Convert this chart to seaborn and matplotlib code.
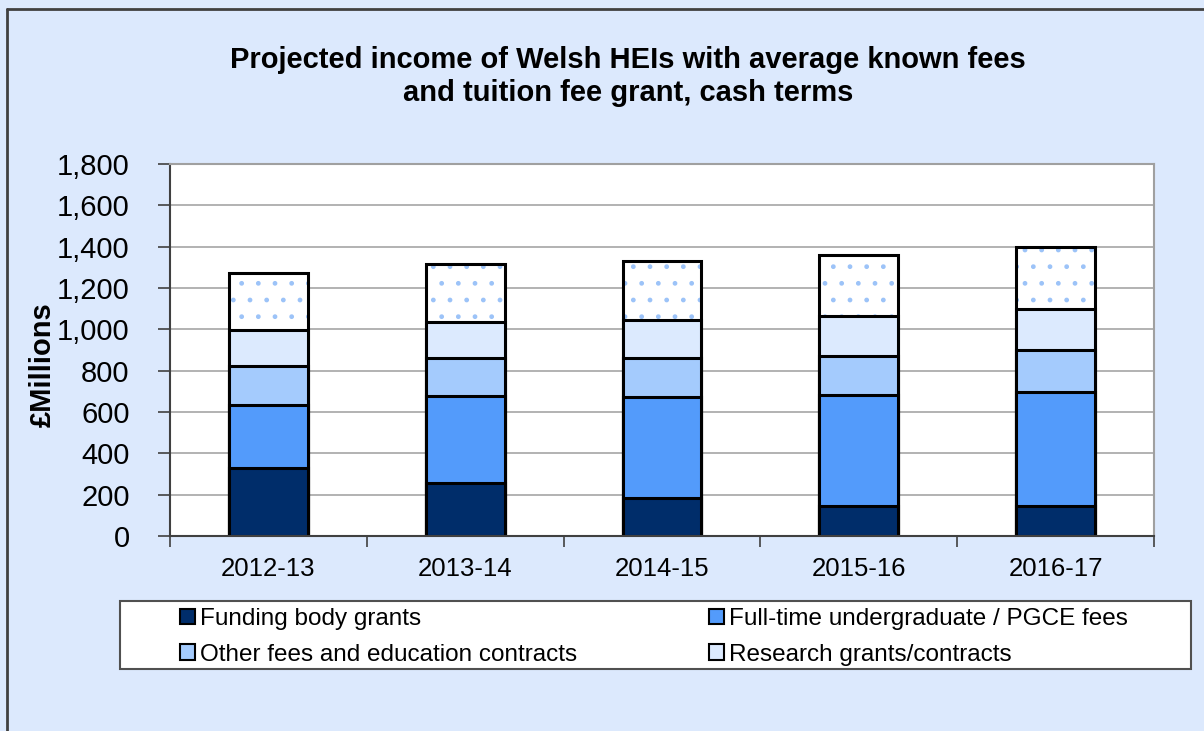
import matplotlib
matplotlib.use("Agg")
import matplotlib.pyplot as plt
from matplotlib.patches import Patch, Rectangle
from matplotlib.lines import Line2D
from matplotlib.ticker import FuncFormatter, MultipleLocator, FixedLocator
import numpy as np
import pandas as pd
import seaborn as sns

# Data (GBP millions)
years = ["2012-13", "2013-14", "2014-15", "2015-16", "2016-17"]
funding_body = [330, 258, 182, 147, 147]
ft_ug_fees = [304, 418, 492, 534, 551]
other_fees = [190, 184, 187, 191, 202]
research = [173, 177, 184, 192, 197]
other_income = [274, 277, 284, 294, 303]

labels = ["Funding body grants", "Full-time undergraduate / PGCE fees",
          "Other fees and education contracts", "Research grants/contracts",
          "Other income"]
colors = ["#002D6A", "#539BFB", "#A4CBFD", "#DCEAFE", "#FFFFFF"]

segments = np.array([funding_body, ft_ug_fees, other_fees, research, other_income])
cumul = segments.cumsum(axis=0)

df = pd.DataFrame({"year": years})
for i, lab in enumerate(labels):
    df[lab] = cumul[i]

sns.set_style("white")
plt.rcParams["font.family"] = ["Liberation Sans", "DejaVu Sans"]
plt.rcParams["text.color"] = "black"
plt.rcParams["xtick.color"] = "black"
plt.rcParams["ytick.color"] = "black"
plt.rcParams["hatch.linewidth"] = 1.0

bg = "#DCE9FD"
fig = plt.figure(figsize=(12.04, 7.31), dpi=100, facecolor=bg)
ax = fig.add_axes([170 / 1204, 1 - 536 / 731, (1154 - 170) / 1204, (536 - 164) / 731])
ax.set_facecolor("white")

# stacked bars: draw cumulative totals from the top segment down
for i in range(len(labels) - 1, -1, -1):
    if i == len(labels) - 1:
        sns.barplot(data=df, x="year", y=labels[i], color="white", width=0.4,
                    errorbar=None, saturation=1, hatch=".", edgecolor="#9CC3F8",
                    linewidth=0, ax=ax)
        sns.barplot(data=df, x="year", y=labels[i], fill=False, width=0.4,
                    errorbar=None, edgecolor="black", linewidth=2.2, ax=ax)
    else:
        sns.barplot(data=df, x="year", y=labels[i], color=colors[i], width=0.4,
                    errorbar=None, saturation=1, edgecolor="black",
                    linewidth=2.2, ax=ax)

ax.set_ylim(0, 1800)
ax.set_xlim(-0.5, len(years) - 0.5)
ax.yaxis.set_major_locator(MultipleLocator(200))
ax.yaxis.set_major_formatter(FuncFormatter(lambda v, p: f"{int(v):,}"))
ax.grid(axis="y", color="#A6A6A6", linewidth=1.2)
ax.set_axisbelow(True)
ax.set_xlabel("")
ax.set_ylabel("")

ax.tick_params(axis="y", which="major", direction="out", length=9, width=1.2,
               color="#404040", labelsize=21, pad=20, left=True)
ax.tick_params(axis="x", which="major", length=0, labelsize=18.5, pad=15)
ax.xaxis.set_minor_locator(FixedLocator(np.arange(-0.5, len(years), 1.0)))
ax.tick_params(axis="x", which="minor", direction="out", length=8, width=1.2,
               color="#404040", bottom=True)

for side in ["top", "right"]:
    ax.spines[side].set_color("#A0A0A0")
    ax.spines[side].set_linewidth(1.5)
for side in ["left", "bottom"]:
    ax.spines[side].set_color("#404040")
    ax.spines[side].set_linewidth(1.5)

# Title and axis label
fig.text(628 / 1204, 1 - 60 / 731, "Projected income of Welsh HEIs with average known fees",
         ha="center", va="center", fontsize=21, fontweight="bold")
fig.text(628 / 1204, 1 - 93 / 731, "and tuition fee grant, cash terms",
         ha="center", va="center", fontsize=21, fontweight="bold")
fig.text(43 / 1204, 1 - 365 / 731, "£Millions", rotation=90, ha="center",
         va="center", fontsize=21, fontweight="bold")

# Outer chart border (left and top visible)
fig.add_artist(Line2D([7 / 1204, 7 / 1204], [0, 1 - 9 / 731], transform=fig.transFigure,
                      color="#404040", linewidth=2))
fig.add_artist(Line2D([7 / 1204, 1], [1 - 9 / 731, 1 - 9 / 731], transform=fig.transFigure,
                      color="#404040", linewidth=2))

# Legend box
fig.add_artist(Rectangle((120 / 1204, 1 - 669 / 731), (1191 - 120) / 1204, 68 / 731,
                         transform=fig.transFigure, facecolor="white",
                         edgecolor="#505050", linewidth=1.5, zorder=1))
handles = [Patch(facecolor=colors[0], edgecolor="black", linewidth=1.5),
           Patch(facecolor=colors[2], edgecolor="black", linewidth=1.5),
           Patch(facecolor=colors[1], edgecolor="black", linewidth=1.5),
           Patch(facecolor=colors[3], edgecolor="black", linewidth=1.5)]
leg_labels = [labels[0], labels[2], labels[1], labels[3]]
leg = fig.legend(handles, leg_labels, ncol=2, loc="center",
                 bbox_to_anchor=(654 / 1204, 1 - 637 / 731), frameon=False,
                 fontsize=17.5, handlelength=0.6, handleheight=0.6,
                 handletextpad=0.2, columnspacing=5.45, labelspacing=0.55,
                 borderpad=0)
leg.set_zorder(2)

fig.savefig("out.png", dpi=100, facecolor=bg)
plt.close("all")
